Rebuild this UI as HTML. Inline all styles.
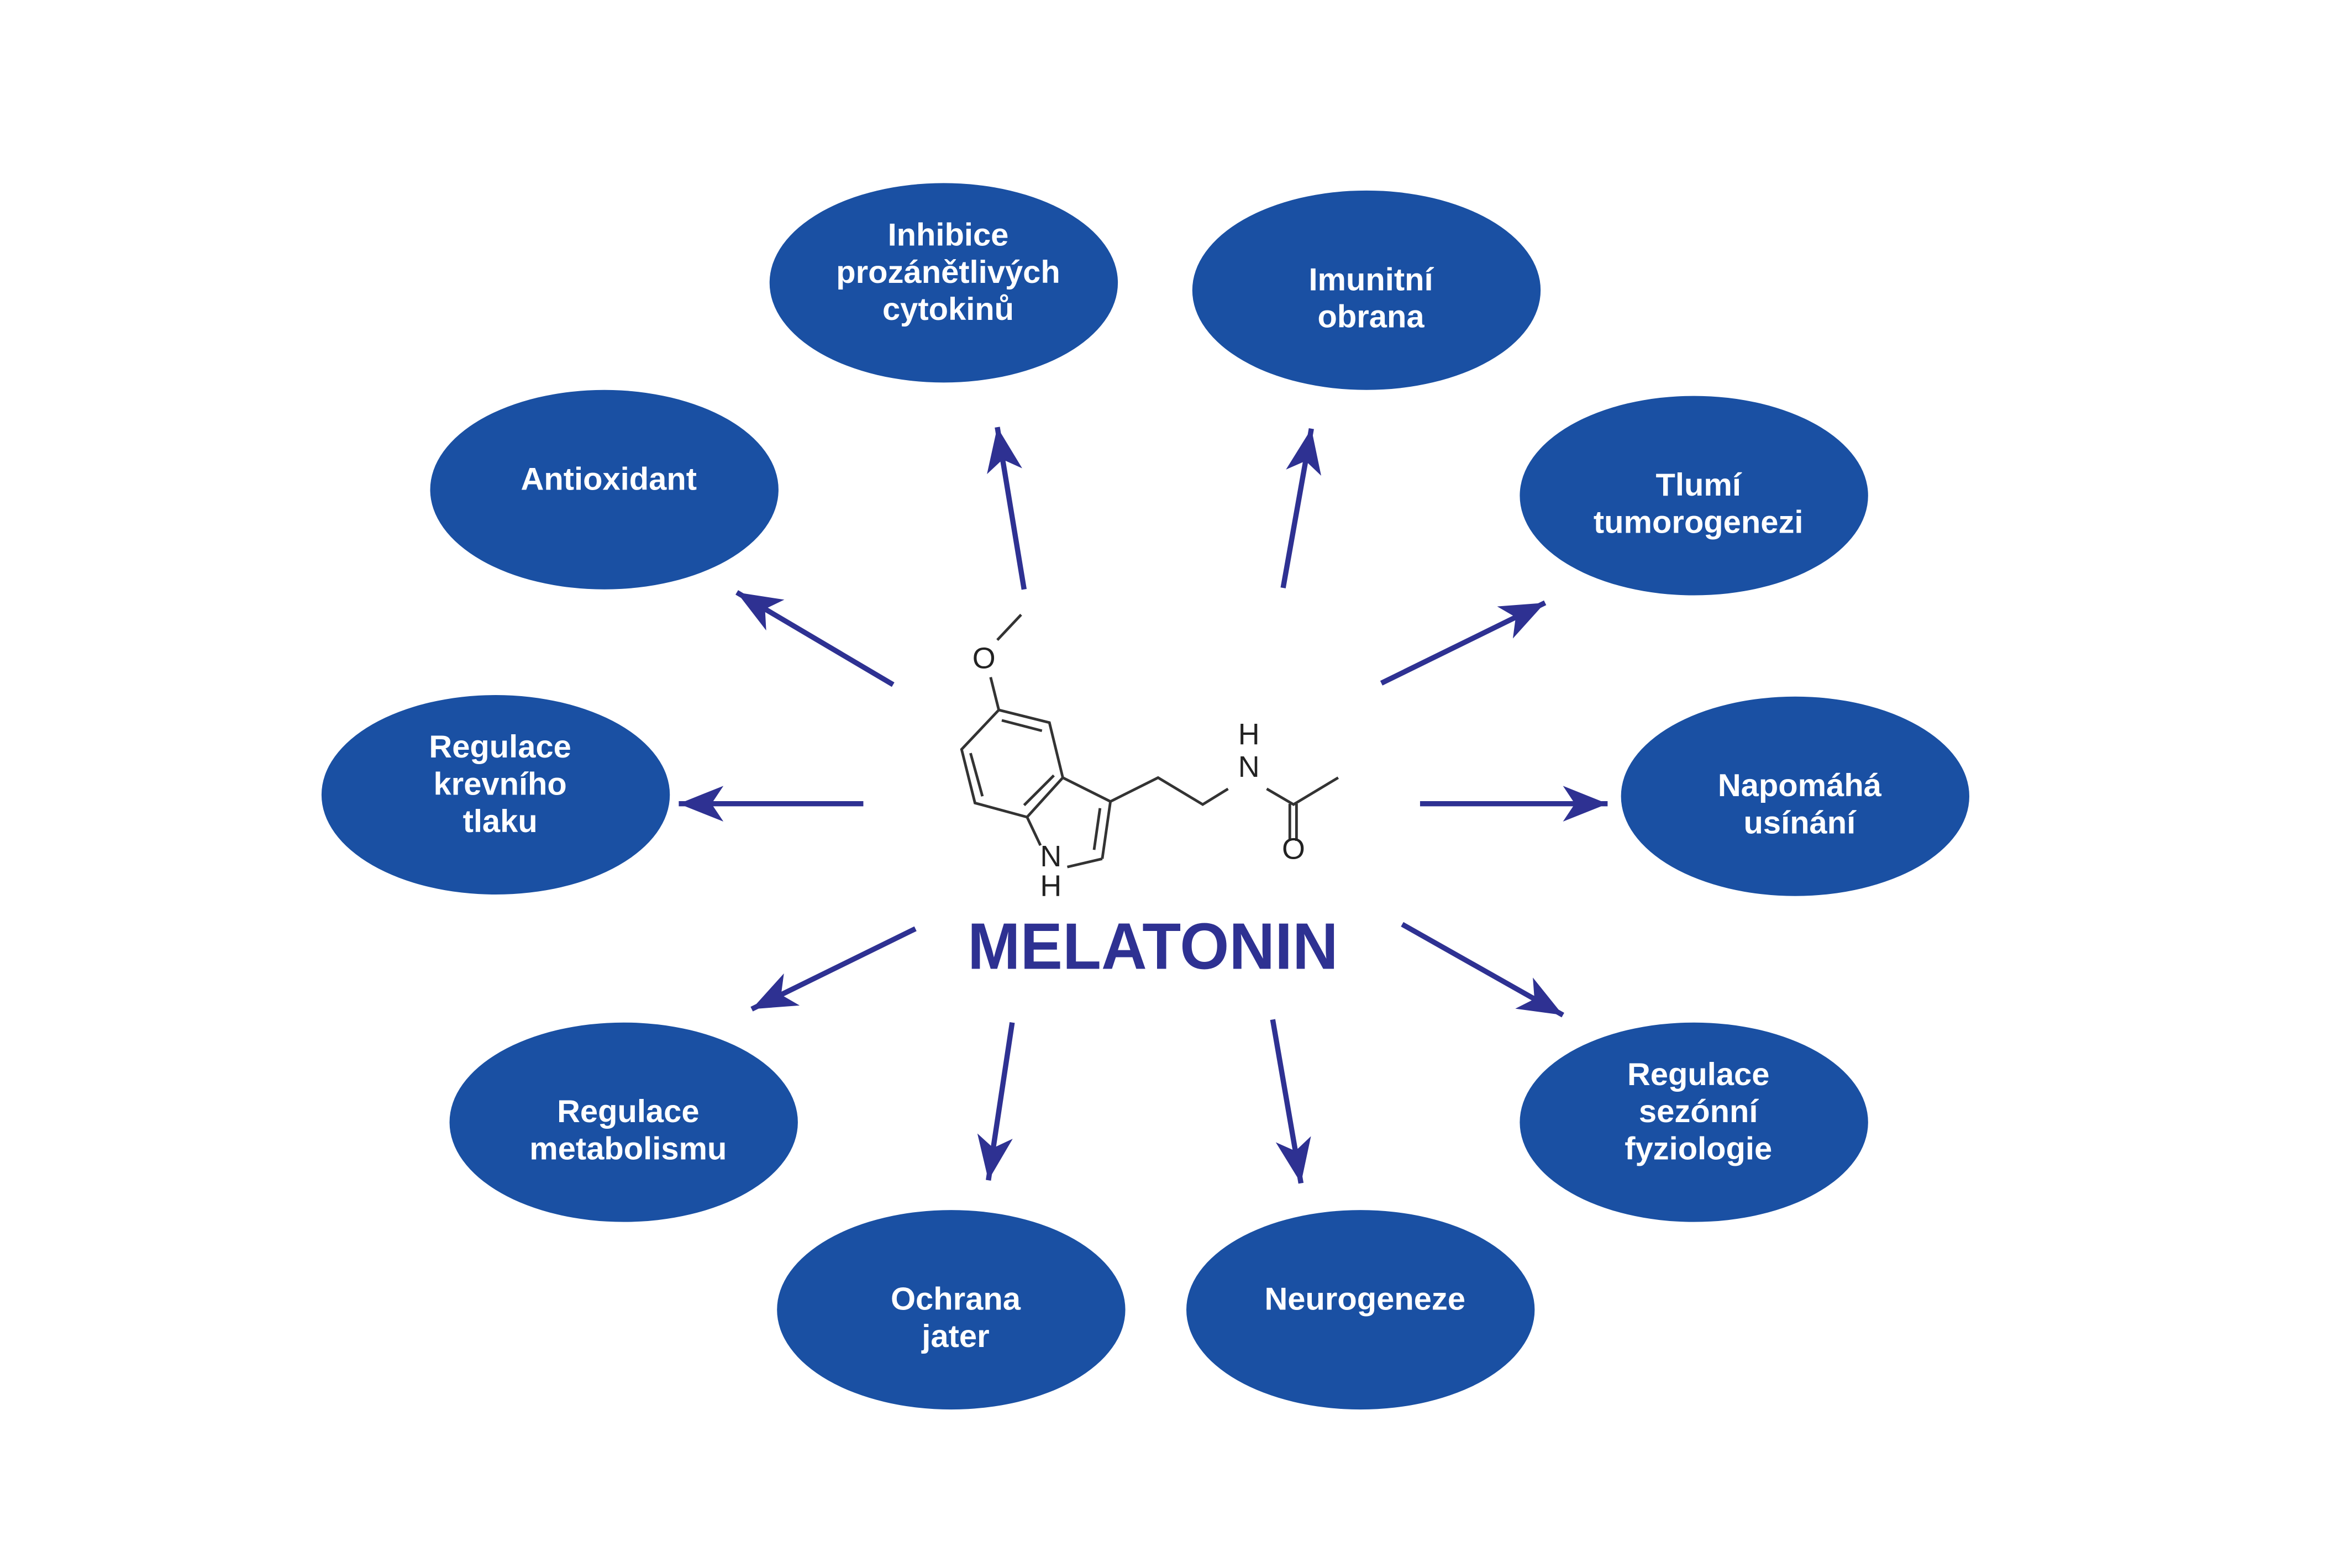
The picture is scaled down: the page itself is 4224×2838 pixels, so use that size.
<!DOCTYPE html>
<html><head><meta charset="utf-8"><style>
html,body{margin:0;padding:0;background:#fff;}
svg{display:block;}
.t{font-family:"Liberation Sans","DejaVu Sans",sans-serif;font-weight:bold;font-size:21.5px;fill:#fff;text-anchor:middle;}
.b{stroke:#333;stroke-width:1.8;fill:none;}
.a{font-family:"Liberation Sans",sans-serif;font-size:20px;fill:#222;text-anchor:middle;}
</style></head><body>
<svg width="4224" height="2838" viewBox="0 0 1568 1053.5" xmlns="http://www.w3.org/2000/svg">
<defs>
<marker id="h" markerUnits="userSpaceOnUse" markerWidth="34" markerHeight="26" refX="30" refY="12" orient="auto">
<path d="M30,12 L0,0 L8,12 L0,24 Z" fill="#2e3192"/>
</marker>
</defs>
<rect width="1568" height="1054" fill="#fff"/>
<g fill="#1a50a3">
<ellipse cx="634" cy="190" rx="117" ry="67"/>
<ellipse cx="918" cy="195" rx="117" ry="67"/>
<ellipse cx="406" cy="329" rx="117" ry="67"/>
<ellipse cx="1138" cy="333" rx="117" ry="67"/>
<ellipse cx="333" cy="534" rx="117" ry="67"/>
<ellipse cx="1206" cy="535" rx="117" ry="67"/>
<ellipse cx="419" cy="754" rx="117" ry="67"/>
<ellipse cx="1138" cy="754" rx="117" ry="67"/>
<ellipse cx="639" cy="880" rx="117" ry="67"/>
<ellipse cx="914" cy="880" rx="117" ry="67"/>
</g>
<text class="t"><tspan x="637" y="165">Inhibice</tspan><tspan x="637" y="190">prozánětlivých</tspan><tspan x="637" y="215">cytokinů</tspan></text>
<text class="t"><tspan x="921" y="195">Imunitní</tspan><tspan x="921" y="220">obrana</tspan></text>
<text class="t"><tspan x="409" y="329">Antioxidant</tspan></text>
<text class="t"><tspan x="1141" y="333">Tlumí</tspan><tspan x="1141" y="358">tumorogenezi</tspan></text>
<text class="t"><tspan x="336" y="509">Regulace</tspan><tspan x="336" y="534">krevního</tspan><tspan x="336" y="559">tlaku</tspan></text>
<text class="t"><tspan x="1209" y="535">Napomáhá</tspan><tspan x="1209" y="560">usínání</tspan></text>
<text class="t"><tspan x="422" y="754">Regulace</tspan><tspan x="422" y="779">metabolismu</tspan></text>
<text class="t"><tspan x="1141" y="729">Regulace</tspan><tspan x="1141" y="754">sezónní</tspan><tspan x="1141" y="779">fyziologie</tspan></text>
<text class="t"><tspan x="642" y="880">Ochrana</tspan><tspan x="642" y="905">jater</tspan></text>
<text class="t"><tspan x="917" y="880">Neurogeneze</tspan></text>

<g stroke="#2e3192" stroke-width="3.5" marker-end="url(#h)">
<line x1="688" y1="396" x2="670" y2="287"/>
<line x1="862" y1="395" x2="881" y2="288"/>
<line x1="600" y1="460" x2="495" y2="398"/>
<line x1="928" y1="459" x2="1038" y2="405"/>
<line x1="580" y1="540" x2="456" y2="540"/>
<line x1="954" y1="540" x2="1080" y2="540"/>
<line x1="615" y1="624" x2="505" y2="678"/>
<line x1="942" y1="621" x2="1050" y2="682"/>
<line x1="680" y1="687" x2="664" y2="793"/>
<line x1="855" y1="685" x2="874" y2="795"/>
</g>

<g class="b">
<line x1="686" y1="413" x2="670" y2="430"/>
<line x1="665.5" y1="455" x2="671" y2="477"/>
<polyline points="671,477 705,485.5 714,522.5 690,549 655,539.5 646,503.5 671,477"/>
<line x1="673" y1="484" x2="700" y2="491"/>
<line x1="652" y1="506" x2="660" y2="535"/>
<line x1="708" y1="521" x2="688" y2="541"/>
<line x1="690" y1="549" x2="699" y2="568"/>
<line x1="717" y1="582.5" x2="740.5" y2="577"/>
<polyline points="740.5,577 746,538.5 714,522.5"/>
<line x1="739" y1="543" x2="735" y2="571"/>
<polyline points="746,538.5 778,522.5 808,540.5 825,530"/>
<polyline points="851,530 869,540.5 899,522.5"/>
<line x1="866.5" y1="540" x2="866.5" y2="565"/>
<line x1="871" y1="540" x2="871" y2="565"/>
</g>
<text class="a" x="661" y="449">O</text>
<text class="a" x="706" y="582">N</text>
<text class="a" x="706" y="602">H</text>
<text class="a" x="839" y="500">H</text>
<text class="a" x="839" y="522">N</text>
<text class="a" x="869" y="577">O</text>
<text x="650" y="651" textLength="249" lengthAdjust="spacingAndGlyphs" style="font-family:'Liberation Sans',sans-serif;font-weight:bold;font-size:44px;fill:#2e3192;">MELATONIN</text>
</svg>
</body></html>
